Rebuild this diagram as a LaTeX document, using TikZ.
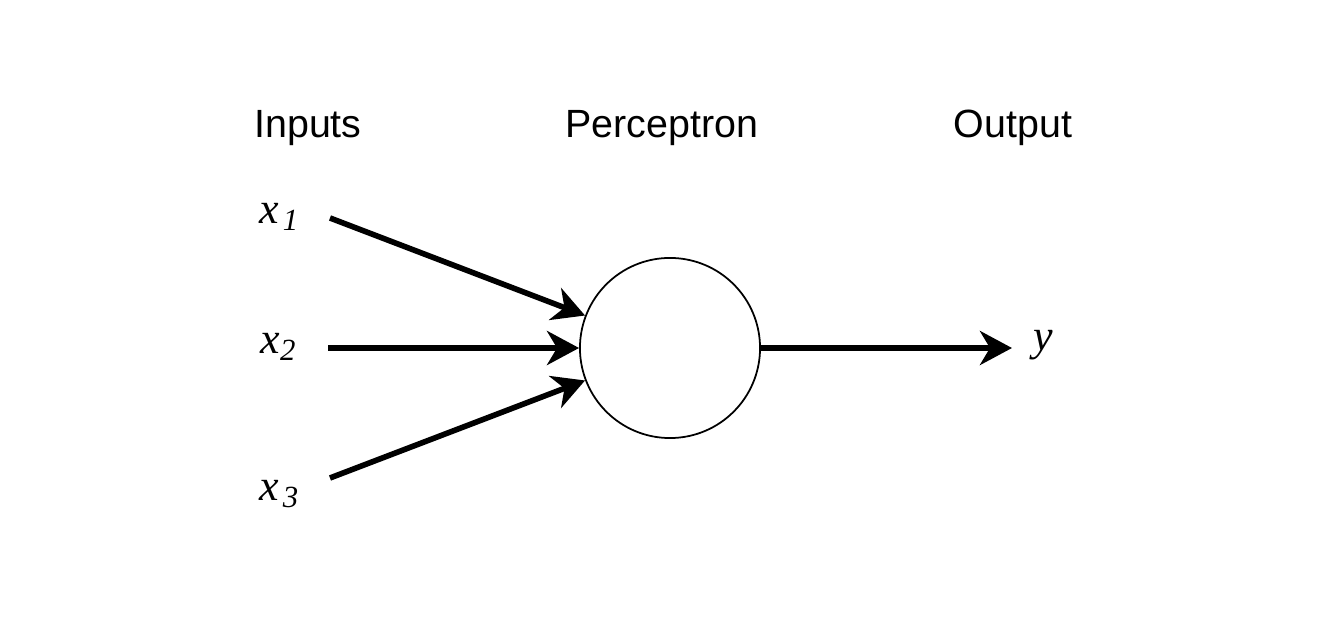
\documentclass[tikz,border=0pt]{standalone}
\usepackage{fontspec}
\setmainfont{Liberation Serif}
\newfontfamily\headfont{Liberation Sans}
\usetikzlibrary{arrows.meta}

\begin{document}
\begin{tikzpicture}[x=0.01cm,y=-0.01cm,
    heading/.style={font=\headfont\fontsize{11.2}{13}\selectfont},
    var/.style={font=\itshape\fontsize{12.5}{15}\selectfont, inner sep=0pt},
    link/.style={line width=1.6pt, -{Stealth[length=3.2mm,width=3.4mm,inset=1mm]}}]
    \useasboundingbox (0,0) rectangle (1320,640);

    % column headings
    \node[heading] (hIn)   at (308,128)  {Inputs};
    \node[heading] (hPerc) at (662,128)  {Perceptron};
    \node[heading] (hOut)  at (1013,128) {Output};

    % neuron
    \node[draw, circle, minimum size=1.8cm, inner sep=0pt, line width=0.5pt] (perc) at (670,348) {};

    % variables
    \node[var] (x1) at (280,217) {x\kern1pt\textsubscript{1}};
    \node[var] (x2) at (279,347) {x\textsubscript{2}};
    \node[var] (x3) at (280,494) {x\kern1pt\textsubscript{3}};
    \node[var] (y)  at (1043,345) {y};

    \coordinate (s1) at (330,218);
    \coordinate (s2) at (328,348);
    \coordinate (s3) at (330,478);
    \coordinate (e)  at (1012,348);

    % connectors
    \draw[link] (s1) -- (perc);
    \draw[link] (s2) -- (perc);
    \draw[link] (s3) -- (perc);
    \draw[link] (perc) -- (e);
\end{tikzpicture}
\end{document}
